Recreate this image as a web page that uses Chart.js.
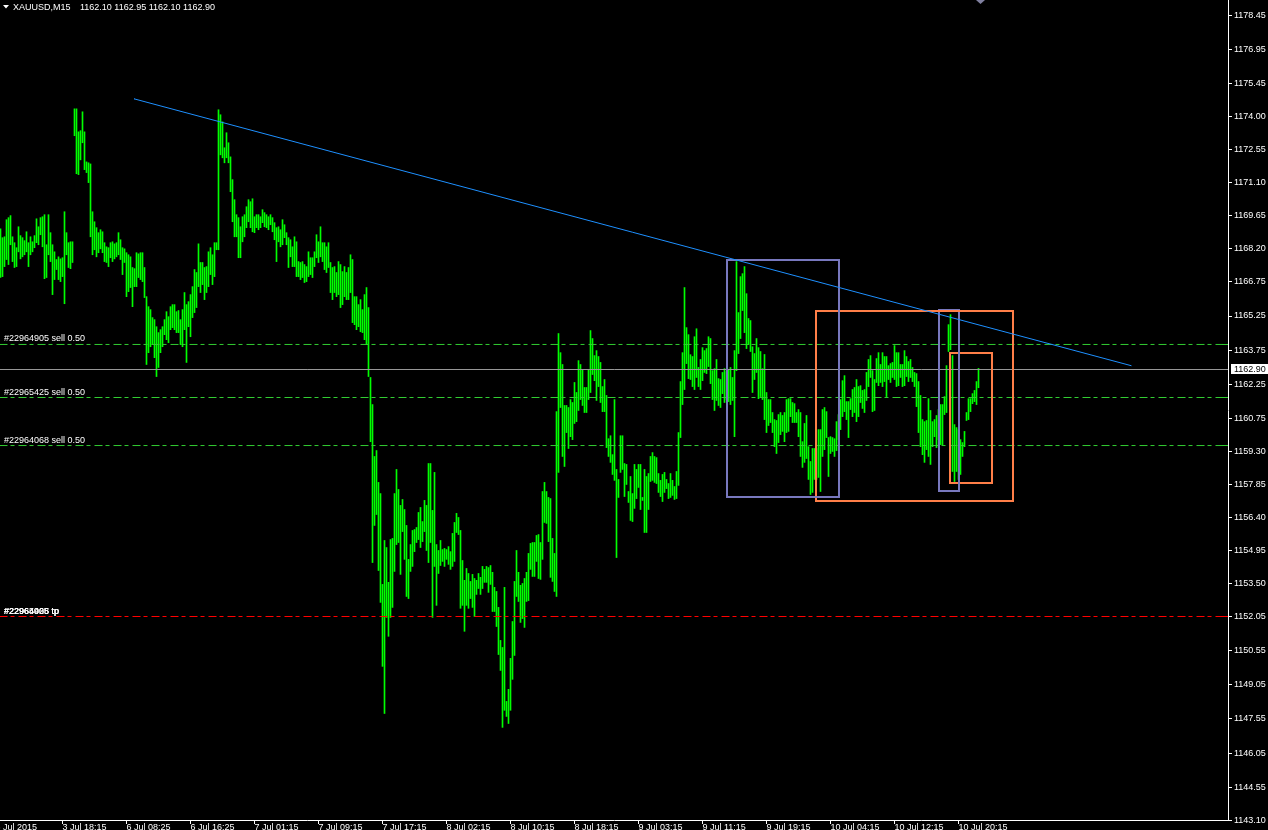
<!DOCTYPE html>
<html>
<head>
<meta charset="utf-8">
<title>XAUUSD,M15</title>
<script src="https://cdn.jsdelivr.net/npm/chart.js@4.4.1/dist/chart.umd.min.js"></script>
<style>
  html, body { margin: 0; padding: 0; background: #000; overflow: hidden; }
  canvas { display: block; }
</style>
</head>
<body>
<canvas id="grafico-ouro" width="1268" height="830"></canvas>
<script>
// M15 bars, one entry per bar (high / low)
const barHighs = [
  1169.08, 1168.69, 1168.73, 1169.48, 1169.57, 1169.66, 1168.73, 1168.47, 1168.25, 1169.17,
  1168.78, 1168.69, 1168.56, 1168.95, 1168.47, 1168.73, 1168.51, 1168.78, 1169.52, 1169.17,
  1169.57, 1169.61, 1169.70, 1168.38, 1169.70, 1168.91, 1168.38, 1168.07, 1167.73, 1167.85,
  1167.76, 1167.81, 1169.83, 1168.91, 1168.47, 1168.51, 1168.51, 1174.35, 1174.35, 1173.34,
  1173.39, 1174.22, 1173.34, 1172.02, 1171.98, 1171.93, 1169.83, 1169.39, 1169.13, 1168.91,
  1169.04, 1168.95, 1168.47, 1168.29, 1168.25, 1168.47, 1168.51, 1168.42, 1168.47, 1168.91,
  1168.60, 1168.25, 1168.20, 1168.03, 1167.94, 1167.85, 1167.38, 1167.33, 1168.03, 1167.98,
  1168.03, 1168.03, 1167.38, 1166.10, 1165.66, 1165.53, 1165.18, 1165.09, 1164.78, 1164.52,
  1164.65, 1164.78, 1165.09, 1165.44, 1165.22, 1165.66, 1165.75, 1165.75, 1165.44, 1165.49,
  1165.09, 1165.53, 1166.28, 1165.75, 1165.88, 1166.19, 1166.54, 1167.29, 1167.16, 1168.42,
  1167.60, 1167.60, 1167.38, 1167.42, 1168.07, 1168.25, 1167.94, 1168.47, 1168.47, 1174.31,
  1174.09, 1173.78, 1172.64, 1173.30, 1172.86, 1172.24, 1171.24, 1170.36, 1169.70, 1169.57,
  1169.17, 1169.61, 1169.70, 1170.05, 1170.36, 1170.27, 1170.40, 1169.61, 1169.70, 1169.70,
  1169.61, 1169.92, 1169.79, 1169.70, 1169.61, 1169.70, 1169.57, 1169.35, 1169.13, 1169.17,
  1169.04, 1169.48, 1169.26, 1168.91, 1168.69, 1168.60, 1168.29, 1168.73, 1168.51, 1167.64,
  1167.60, 1167.64, 1167.51, 1167.42, 1168.07, 1167.81, 1167.81, 1168.07, 1168.82, 1168.51,
  1169.17, 1168.47, 1168.47, 1168.29, 1168.47, 1167.60, 1167.38, 1167.42, 1167.16, 1167.64,
  1167.51, 1167.20, 1167.42, 1167.16, 1167.38, 1167.94, 1167.73, 1166.10, 1166.10, 1165.75,
  1165.97, 1165.53, 1166.19, 1166.50, 1165.62, 1162.55, 1161.36, 1159.08, 1159.34, 1157.94,
  1157.45, 1153.46, 1155.39, 1155.08, 1153.55, 1155.43, 1155.48, 1157.45, 1158.51, 1157.63,
  1156.93, 1157.19, 1156.75, 1156.05, 1154.56, 1155.21, 1155.83, 1155.87, 1155.96, 1156.62,
  1156.84, 1156.22, 1157.15, 1156.93, 1158.77, 1158.77, 1156.71, 1158.38, 1155.21, 1154.95,
  1155.39, 1154.99, 1155.04, 1154.99, 1155.12, 1154.90, 1155.70, 1156.18, 1156.58, 1156.40,
  1155.83, 1154.51, 1153.64, 1154.16, 1153.94, 1153.59, 1153.90, 1153.72, 1153.64, 1153.94,
  1153.77, 1154.25, 1154.12, 1154.25, 1154.20, 1154.29, 1153.99, 1153.33, 1153.15, 1152.45,
  1151.00, 1150.69, 1153.33, 1148.32, 1148.85, 1150.21, 1151.83, 1153.59, 1154.95, 1153.99,
  1153.42, 1153.50, 1153.72, 1153.99, 1154.82, 1155.26, 1155.30, 1155.30, 1155.61, 1155.65,
  1155.30, 1157.54, 1157.94, 1157.54, 1157.28, 1157.23, 1155.48, 1154.82, 1161.05, 1164.48,
  1163.64, 1163.12, 1161.32, 1161.32, 1161.23, 1161.58, 1161.45, 1162.33, 1161.89, 1163.29,
  1163.12, 1162.90, 1162.11, 1162.11, 1162.90, 1164.61, 1164.26, 1163.51, 1163.73, 1163.47,
  1163.21, 1162.15, 1162.46, 1161.76, 1159.86, 1159.99, 1159.16, 1161.58, 1158.51, 1158.07,
  1159.99, 1159.99, 1158.77, 1158.73, 1157.54, 1158.20, 1157.45, 1158.73, 1158.51, 1158.73,
  1158.73, 1157.28, 1158.51, 1158.20, 1158.33, 1159.08, 1159.25, 1159.08, 1159.03, 1158.33,
  1158.03, 1158.29, 1158.38, 1158.07, 1157.89, 1158.33, 1158.03, 1157.76, 1158.42, 1160.13,
  1162.37, 1163.64, 1166.50, 1164.74, 1164.43, 1163.55, 1163.47, 1164.34, 1164.69, 1162.99,
  1163.34, 1163.86, 1163.73, 1163.82, 1164.34, 1164.26, 1162.85, 1162.94, 1163.34, 1162.50,
  1162.46, 1162.77, 1162.94, 1162.81, 1162.90, 1162.99, 1162.55, 1163.73, 1167.64, 1165.40,
  1166.98, 1167.11, 1167.42, 1166.23, 1165.14, 1165.05, 1163.90, 1163.60, 1164.26, 1163.86,
  1163.69, 1162.94, 1163.56, 1161.89, 1161.58, 1161.58, 1161.01, 1160.70, 1160.66, 1160.92,
  1161.01, 1160.88, 1161.01, 1161.58, 1161.62, 1161.62, 1161.45, 1161.40, 1161.01, 1161.14,
  1161.01, 1159.73, 1160.53, 1160.88, 1159.51, 1158.86, 1159.43, 1159.43, 1159.43, 1160.26,
  1160.26, 1161.14, 1161.23, 1161.05, 1159.91, 1159.95, 1159.91, 1159.86, 1160.61, 1160.92,
  1161.58, 1162.41, 1162.63, 1161.49, 1161.49, 1161.62, 1162.02, 1162.11, 1162.46, 1162.15,
  1162.19, 1161.98, 1162.02, 1162.77, 1163.34, 1163.51, 1162.85, 1162.46, 1163.38, 1163.64,
  1163.12, 1163.64, 1163.47, 1163.47, 1163.07, 1163.16, 1163.21, 1163.95, 1163.64, 1163.64,
  1163.12, 1163.12, 1163.73, 1163.47, 1163.25, 1163.34, 1162.99, 1162.77, 1162.72, 1162.37,
  1161.76, 1160.70, 1160.61, 1160.66, 1161.62, 1161.10, 1160.61, 1160.70, 1160.88, 1161.14,
  1161.36, 1161.36, 1161.71, 1163.07, 1164.87, 1165.31, 1163.51, 1160.48, 1160.35, 1160.26,
  1159.82, 1159.69, 1160.18, 1161.01, 1161.62, 1161.62, 1161.84, 1161.98, 1162.37, 1162.95
];
const barLows = [
  1166.94, 1166.98, 1167.42, 1167.73, 1167.51, 1168.38, 1167.64, 1167.38, 1167.42, 1168.07,
  1167.76, 1167.85, 1167.94, 1168.07, 1167.42, 1167.94, 1168.07, 1168.25, 1168.47, 1168.38,
  1168.82, 1168.29, 1166.89, 1166.94, 1167.94, 1167.64, 1166.19, 1166.85, 1167.29, 1166.85,
  1166.76, 1166.98, 1165.79, 1167.94, 1167.38, 1167.33, 1167.60, 1173.17, 1171.50, 1171.46,
  1172.11, 1172.86, 1171.68, 1171.55, 1171.11, 1168.73, 1167.94, 1168.16, 1167.85, 1168.03,
  1168.20, 1168.03, 1167.64, 1167.60, 1167.42, 1167.81, 1167.64, 1167.76, 1167.85, 1167.94,
  1167.73, 1167.07, 1167.60, 1166.10, 1166.32, 1166.50, 1165.66, 1166.54, 1166.54, 1166.94,
  1166.85, 1166.76, 1166.06, 1163.12, 1163.64, 1163.90, 1163.99, 1163.42, 1162.59, 1162.99,
  1163.64, 1163.90, 1164.43, 1164.21, 1164.08, 1164.65, 1164.74, 1164.65, 1164.52, 1164.52,
  1163.99, 1163.90, 1164.65, 1163.21, 1164.78, 1164.34, 1165.18, 1165.40, 1165.62, 1166.54,
  1166.28, 1166.63, 1165.97, 1166.28, 1166.54, 1167.07, 1166.63, 1166.98, 1168.16, 1168.16,
  1172.33, 1172.20, 1171.98, 1172.20, 1171.98, 1170.71, 1169.39, 1168.73, 1168.73, 1167.81,
  1167.81, 1168.51, 1168.73, 1169.13, 1169.39, 1169.13, 1168.95, 1168.91, 1169.13, 1169.04,
  1169.13, 1169.35, 1169.17, 1169.13, 1169.04, 1169.26, 1168.95, 1168.60, 1167.64, 1168.51,
  1168.29, 1168.38, 1168.69, 1168.38, 1167.38, 1167.85, 1167.42, 1167.42, 1166.98, 1166.98,
  1166.85, 1166.94, 1166.72, 1166.76, 1166.98, 1167.07, 1166.94, 1167.42, 1167.81, 1167.60,
  1167.85, 1167.64, 1167.29, 1167.16, 1167.38, 1166.28, 1165.97, 1166.28, 1166.10, 1166.19,
  1165.62, 1165.75, 1166.10, 1165.97, 1165.97, 1166.28, 1164.96, 1164.87, 1164.65, 1164.78,
  1164.56, 1164.52, 1164.21, 1163.99, 1162.59, 1159.73, 1154.42, 1156.05, 1156.53, 1154.07,
  1152.67, 1149.86, 1147.79, 1152.01, 1151.18, 1152.01, 1152.45, 1154.03, 1155.21, 1155.30,
  1153.90, 1155.78, 1154.56, 1152.93, 1152.84, 1154.03, 1154.25, 1154.90, 1155.30, 1155.43,
  1155.08, 1155.34, 1155.78, 1154.95, 1154.42, 1155.30, 1152.01, 1154.25, 1152.54, 1153.94,
  1154.29, 1154.47, 1154.25, 1154.56, 1154.34, 1154.12, 1154.25, 1154.47, 1155.74, 1155.65,
  1152.41, 1152.54, 1151.40, 1152.54, 1152.41, 1152.84, 1152.45, 1152.05, 1153.02, 1153.28,
  1153.02, 1153.28, 1153.55, 1153.55, 1153.11, 1153.46, 1152.27, 1152.27, 1151.61, 1150.38,
  1149.68, 1147.18, 1147.93, 1147.66, 1147.35, 1147.93, 1149.29, 1150.34, 1152.93, 1152.71,
  1151.79, 1151.96, 1151.57, 1152.71, 1152.75, 1154.12, 1153.81, 1153.81, 1154.47, 1153.72,
  1153.68, 1154.56, 1156.18, 1156.14, 1155.34, 1153.77, 1153.59, 1153.15, 1152.93, 1158.38,
  1161.23, 1159.08, 1158.64, 1160.13, 1159.43, 1159.95, 1159.82, 1160.53, 1160.61, 1161.10,
  1161.58, 1161.32, 1161.01, 1161.01, 1161.58, 1161.89, 1162.68, 1162.41, 1161.54, 1162.15,
  1161.45, 1161.05, 1161.05, 1159.47, 1159.08, 1158.82, 1158.29, 1158.03, 1154.64, 1157.28,
  1158.38, 1158.51, 1157.32, 1157.85, 1157.06, 1156.27, 1156.22, 1156.80, 1157.23, 1157.72,
  1156.75, 1157.15, 1155.74, 1155.74, 1156.75, 1157.98, 1158.03, 1157.94, 1157.89, 1157.50,
  1157.32, 1157.10, 1157.50, 1157.67, 1157.23, 1157.28, 1157.37, 1157.19, 1157.23, 1157.81,
  1159.91, 1161.36, 1162.02, 1163.16, 1162.50, 1162.46, 1162.15, 1162.02, 1162.55, 1162.15,
  1162.02, 1162.41, 1162.77, 1162.72, 1163.03, 1162.28, 1161.58, 1161.10, 1161.54, 1161.32,
  1161.23, 1161.84, 1161.45, 1161.58, 1161.49, 1161.36, 1161.54, 1159.95, 1162.85, 1163.60,
  1164.26, 1165.49, 1164.52, 1163.82, 1163.99, 1163.69, 1161.89, 1162.46, 1162.77, 1161.62,
  1161.71, 1161.58, 1160.70, 1160.13, 1160.44, 1160.57, 1160.13, 1159.51, 1159.21, 1159.69,
  1160.04, 1160.18, 1159.73, 1160.13, 1160.18, 1160.83, 1160.57, 1160.57, 1160.57, 1159.95,
  1159.08, 1158.60, 1158.82, 1158.99, 1158.07, 1157.41, 1157.50, 1158.07, 1158.07, 1158.16,
  1157.54, 1159.08, 1159.38, 1159.91, 1158.20, 1159.21, 1159.30, 1159.08, 1159.34, 1159.82,
  1160.26, 1160.83, 1161.05, 1160.70, 1159.91, 1161.14, 1160.83, 1161.01, 1160.61, 1160.83,
  1161.45, 1161.19, 1161.01, 1161.54, 1162.15, 1162.55, 1161.05, 1161.10, 1162.33, 1162.19,
  1162.33, 1162.15, 1162.37, 1161.71, 1162.46, 1162.33, 1162.55, 1162.46, 1162.15, 1162.19,
  1162.55, 1162.15, 1162.19, 1162.59, 1162.37, 1162.55, 1162.37, 1162.15, 1161.27, 1160.13,
  1159.51, 1159.16, 1158.82, 1159.38, 1159.08, 1158.73, 1159.51, 1159.95, 1159.47, 1159.82,
  1159.60, 1159.60, 1160.92, 1161.01, 1163.69, 1163.77, 1158.42, 1157.98, 1158.42, 1158.07,
  1158.29, 1159.08, 1159.51, 1160.66, 1160.70, 1161.05, 1161.40, 1161.49, 1161.36, 1162.10
];

const priceTicks = [1178.45, 1176.95, 1175.45, 1174.00, 1172.55, 1171.10, 1169.65, 1168.20, 1166.75,
  1165.25, 1163.75, 1162.25, 1160.75, 1159.30, 1157.85, 1156.40, 1154.95, 1153.50, 1152.05,
  1150.55, 1149.05, 1147.55, 1146.05, 1144.55, 1143.10];
const timeTickBars = [-2.5, 31, 63, 95, 127, 159, 191, 223, 255, 287, 319, 351, 383, 415, 447, 479];
const timeTickLabels = ["3 Jul 2015", "3 Jul 18:15", "6 Jul 08:25", "6 Jul 16:25", "7 Jul 01:15",
  "7 Jul 09:15", "7 Jul 17:15", "8 Jul 02:15", "8 Jul 10:15", "8 Jul 18:15", "9 Jul 03:15",
  "9 Jul 11:15", "9 Jul 19:15", "10 Jul 04:15", "10 Jul 12:15", "10 Jul 20:15"];

const symbolName = "XAUUSD,M15";
const lastOhlc = [1162.10, 1162.95, 1162.10, 1162.90];
const bidPrice = 1162.90;

const sellLevels = [1164.00, 1161.67, 1159.56];
const sellNames = ["#22964905 sell 0.50", "#22965425 sell 0.50", "#22964068 sell 0.50"];
const tpLevel = 1152.05;
const tpNames = ["#22964905 tp", "#22965425 tp", "#22964068 tp"];

const trendBars = [66.75, 565.25];
const trendPrices = [1174.79, 1163.07];

// rectangles: bar index left/right, price top/bottom
const boxLeft = [363.25, 407.75, 469.25, 474.75];
const boxRight = [419.25, 506.25, 479.25, 495.75];
const boxTop = [1167.71, 1165.47, 1165.51, 1163.62];
const boxBottom = [1157.30, 1157.12, 1157.56, 1157.91];

const X_MIN = -0.25, X_MAX = 613.75;
const Y_MIN = 1143.111, Y_MAX = 1179.131;
const FONT = "'Liberation Sans', Arial, sans-serif";

function levelLine(price) {
  return [{ x: X_MIN, y: price }, { x: X_MAX, y: price }];
}
function boxPath(k) {
  return [
    { x: boxLeft[k], y: boxTop[k] }, { x: boxRight[k], y: boxTop[k] },
    { x: boxRight[k], y: boxBottom[k] }, { x: boxLeft[k], y: boxBottom[k] },
    { x: boxLeft[k], y: boxTop[k] },
  ];
}
function lineSet(data, color, dash, width, order) {
  return {
    type: "line", data: data, borderColor: color, borderWidth: width, borderDash: dash,
    pointRadius: 0, fill: false, tension: 0, order: order,
    borderJoinStyle: "miter", borderCapStyle: "square",
  };
}

const boxColors = ["#7878be", "#ff7f48", "#7878be", "#ff7f48"];
const dashDot = [7, 4, 3, 5];

const datasets = [
  {
    type: "bar",
    data: barHighs.map((h, i) => ({ x: i, y: [barLows[i], h] })),
    backgroundColor: "#00ff00",
    borderWidth: 0,
    barThickness: 1,
    order: 5,
  },
  lineSet(levelLine(bidPrice), "#979797", [], 1, 4),
  lineSet(levelLine(tpLevel), "#ff0000", dashDot, 1, 3),
];
sellLevels.forEach(p => datasets.push(lineSet(levelLine(p), "#32cd32", dashDot, 1, 3)));
boxLeft.forEach((_, k) => datasets.push(lineSet(boxPath(k), boxColors[k], [], 2, 1)));
datasets.push(lineSet(trendBars.map((b, i) => ({ x: b, y: trendPrices[i] })), "#1e90ff", [], 1, 0));

const overlayPlugin = {
  id: "overlay",
  afterDraw(chart) {
    const c = chart.ctx;
    const yScale = chart.scales.y;
    const area = chart.chartArea;
    c.save();
    c.font = "9px " + FONT;
    c.textBaseline = "alphabetic";
    c.textAlign = "left";

    // header
    c.fillStyle = "#fff";
    c.beginPath();
    c.moveTo(3, 5); c.lineTo(9, 5); c.lineTo(6, 8.5); c.closePath();
    c.fill();
    c.fillText(symbolName, 13, 10);
    c.fillText(lastOhlc.map(v => v.toFixed(2)).join(" "), 80, 10);

    // order labels
    sellLevels.forEach((p, i) => {
      c.fillText(sellNames[i], 4, yScale.getPixelForValue(p) - 3);
    });
    tpNames.forEach(t => c.fillText(t, 4, yScale.getPixelForValue(tpLevel) - 3));

    // level markers on the price axis
    c.fillStyle = "#32cd32";
    sellLevels.forEach(p => c.fillRect(area.right - 6, Math.floor(yScale.getPixelForValue(p)), 6, 1));
    c.fillStyle = "#ff0000";
    c.fillRect(area.right - 6, Math.floor(yScale.getPixelForValue(tpLevel)), 6, 1);

    // bid label
    const by = yScale.getPixelForValue(bidPrice);
    c.fillStyle = "#fff";
    c.fillRect(area.right + 3, Math.floor(by) - 5, 37, 10);
    c.fillStyle = "#000";
    c.textBaseline = "middle";
    c.fillText(bidPrice.toFixed(2), area.right + 6, by + 0.5);

    // chart shift marker
    c.fillStyle = "#8080a0";
    c.beginPath();
    c.moveTo(976, 0); c.lineTo(985, 0); c.lineTo(980.5, 4); c.closePath();
    c.fill();
    c.restore();
  },
};

const ctxOuro = document.getElementById("grafico-ouro").getContext("2d");
const ouroConfig = {
  type: "bar",
  data: { datasets: datasets },
  options: {
    responsive: false,
    animation: false,
    devicePixelRatio: 1,
    layout: { padding: 0 },
    scales: {
      x: {
        type: "linear",
        min: X_MIN,
        max: X_MAX,
        offset: false,
        position: "bottom",
        afterBuildTicks: axis => { axis.ticks = timeTickBars.map(v => ({ value: v })); },
        afterFit: axis => { axis.height = 10; axis.paddingLeft = 0; axis.paddingRight = 0; },
        ticks: {
          autoSkip: false, maxRotation: 0, minRotation: 0, align: "start", padding: -1,
          color: "#fff", font: { family: FONT, size: 9, lineHeight: 1 },
          callback: (v, i) => timeTickLabels[i],
        },
        grid: { drawOnChartArea: false, drawTicks: true, tickLength: 4, color: "#fff", offset: false },
        border: { display: true, color: "#fff" },
      },
      y: {
        type: "linear",
        position: "right",
        min: Y_MIN,
        max: Y_MAX,
        afterBuildTicks: axis => { axis.ticks = priceTicks.map(v => ({ value: v })); },
        afterFit: axis => { axis.width = 40; axis.paddingTop = 0; axis.paddingBottom = 0; },
        ticks: {
          autoSkip: false, padding: 2, color: "#fff",
          font: { family: FONT, size: 9, lineHeight: 1 },
          callback: v => v.toFixed(2),
        },
        grid: { drawOnChartArea: false, drawTicks: true, tickLength: 4, color: "#fff" },
        border: { display: true, color: "#fff" },
      },
    },
    plugins: {
      legend: { display: false },
      tooltip: { enabled: false },
    },
  },
  plugins: [overlayPlugin],
};
const graficoOuro = new Chart(ctxOuro, ouroConfig);
</script>
</body>
</html>
